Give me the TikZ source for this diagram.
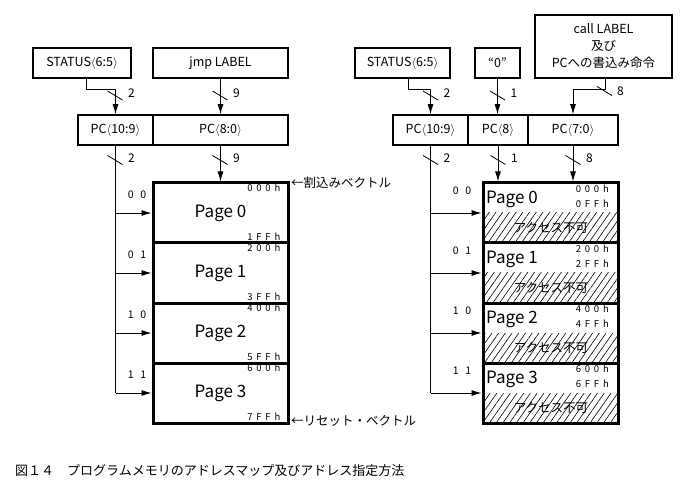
\documentclass[tikz,border=0pt]{standalone}
\usepackage{fontspec}
\setmainfont{Noto Sans CJK JP}
\newfontfamily\addrfont[LetterSpace=40]{Noto Sans CJK JP}
\usetikzlibrary{arrows.meta,patterns.meta,calc}
\begin{document}
\begin{tikzpicture}[x=1pt,y=-1pt,
  box/.style={draw, line width=1.6pt, minimum height=30pt, inner sep=0pt, font=\fontsize{12.5}{14}\selectfont},
  page/.style={draw, line width=3pt, minimum width=135pt, minimum height=60pt, inner sep=0pt},
  conn/.style={line width=0.9pt},
  arr/.style={conn, -{Latex[length=10pt,width=6pt]}},
  tick/.style={line width=0.8pt},
  bw/.style={font=\fontsize{12}{13}\selectfont, anchor=west, inner sep=0pt},
  addr/.style={font=\addrfont\fontsize{9.5}{10}\selectfont, anchor=east, inner sep=0pt},
  sel/.style={font=\addrfont\fontsize{10.5}{11}\selectfont, inner sep=0pt},
  pg/.style={font=\fontsize{17}{19}\selectfont, inner sep=0pt},
  jp/.style={font=\fontsize{12.5}{14}\selectfont, inner sep=0pt}]
\useasboundingbox (0,0) rectangle (691,489);

% ---------------- left diagram ----------------
\node[box, minimum width=98pt] (st1) at (82,63) {STATUS$\langle$6:5$\rangle$};
\node[box, minimum width=135pt] (jmp1) at (220.5,63) {jmp LABEL};
\node[box, minimum width=75pt] (pca1) at (115.5,130) {PC$\langle$10:9$\rangle$};
\node[box, minimum width=135pt] (pcb1) at (220.5,130) {PC$\langle$8:0$\rangle$};

\foreach \i/\y/\ta/\ba/\s in {0/213/000h/1FFh/0 0,1/273/200h/3FFh/0 1,2/333/400h/5FFh/1 0,3/393/600h/7FFh/1 1}{
  \node[page, pg] (lp\i) at (220.5,\y) {Page \i};
  \node[addr] (lta\i) at ($(lp\i.north east)+(-9,6.5)$) {\ta};
  \node[addr] (lba\i) at ($(lp\i.south east)+(-9,-7.5)$) {\ba};
  \node[sel] (ls\i) at (137,\y-18) {\s};
}
\draw[conn] (pca1.south) -- (pca1.south |- lp3.west);
\foreach \i in {0,1,2,3}{
  \draw[arr] (pca1.south |- lp\i.west) -- (lp\i.west);
}
\draw[arr] ([xshift=4pt]st1.south) -- ++(0,11) -| (pca1.north);
\draw[arr] (jmp1.south) -- (pcb1.north);
\draw[arr] (pcb1.south) -- (pcb1.south |- lp0.north);

\draw[tick] (107.5,91) -- (122.5,100);
\node[bw] (lw1) at (128,93.5) {2};
\draw[tick] (212.5,91) -- (227.5,100);
\node[bw] (lw2) at (233,93.5) {9};
\draw[tick] (107.5,155.5) -- (122.5,164.5);
\node[bw] (lw3) at (128,158) {2};
\draw[tick] (212.5,155.5) -- (227.5,164.5);
\node[bw] (lw4) at (233,158) {9};

\node[jp, anchor=west] (irq) at (291,183) {←割込みベクトル};
\node[jp, anchor=west] (rst) at (291,421) {←リセット・ベクトル};

% ---------------- right diagram ----------------
\node[box, minimum width=95pt] (st2) at (402.5,63) {STATUS$\langle$6:5$\rangle$};
\node[box, minimum width=45pt] (z2) at (497.5,63) {“0”};
\node[box, minimum width=137pt, minimum height=63pt, align=center, font=\fontsize{12.5}{17}\selectfont] (call2) at (603.5,46.5) {call LABEL\\及び\\PCへの書込み命令};
\node[box, minimum width=75pt] (pca2) at (430.5,130) {PC$\langle$10:9$\rangle$};
\node[box, minimum width=60pt] (pcb2) at (498,130) {PC$\langle$8$\rangle$};
\node[box, minimum width=90pt] (pcc2) at (573,130) {PC$\langle$7:0$\rangle$};

\foreach \i/\y/\ta/\ba/\s in {0/213/000h/0FFh/0 0,1/273/200h/2FFh/0 1,2/333/400h/4FFh/1 0,3/393/600h/6FFh/1 1}{
  \fill[pattern={Lines[angle=55,distance=5.5pt,line width=0.6pt]}] (483,\y) rectangle (618,\y+30);
  \node[jp] (rx\i) at (551,\y+15) {アクセス不可};
  \node[page] (rp\i) at (550.5,\y) {};
  \node[pg, anchor=west] (rpt\i) at (486,\y-14) {Page \i};
  \node[addr] (rta\i) at (609,\y-24) {\ta};
  \node[addr] (rba\i) at (609,\y-9) {\ba};
  \node[sel] (rs\i) at (462,\y-22) {\s};
}
\draw[conn] (pca2.south) -- (pca2.south |- rp3.west);
\foreach \i in {0,1,2,3}{
  \draw[arr] (pca2.south |- rp\i.west) -- (rp\i.west);
}
\draw[arr] ([xshift=5.5pt]st2.south) -- ++(0,11) -| (pca2.north);
\draw[arr] (z2.south) -- (z2.south |- pcb2.north);
\draw[arr] ([xshift=1.5pt]call2.south) -- ++(0,11) -| (pcc2.north);
\draw[arr] (pcb2.south) -- (pcb2.south |- rp0.north);
\draw[arr] (pcc2.south) -- (pcc2.south |- rp0.north);

\draw[tick] (423,91) -- (438,100);
\node[bw] (rw1) at (443.5,93.5) {2};
\draw[tick] (490,91) -- (505,100);
\node[bw] (rw2) at (510.5,93.5) {1};
\draw[tick] (597,86.5) -- (612,95.5);
\node[bw] (rw3) at (617,91) {8};
\draw[tick] (423,155.5) -- (438,164.5);
\node[bw] (rw4) at (443.5,158) {2};
\draw[tick] (490.5,155.5) -- (505.5,164.5);
\node[bw] (rw5) at (511,158) {1};
\draw[tick] (565.5,155.5) -- (580.5,164.5);
\node[bw] (rw6) at (586,158) {8};

% ---------------- caption ----------------
\node[anchor=west, inner sep=0pt, font=\fontsize{13}{15}\selectfont] (cap) at (15,471) {図１４　プログラムメモリのアドレスマップ及びアドレス指定方法};
\end{tikzpicture}
\end{document}
